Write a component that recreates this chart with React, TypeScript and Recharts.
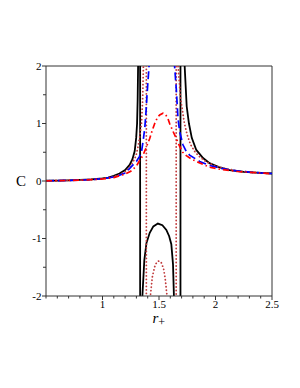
import React from 'react';
import { LineChart, Line, XAxis, YAxis, ReferenceLine, Label } from 'recharts';

// [r+, C] readings for each series
const blackPts: [number, number][] = [
  [0.5, 0.005], [0.6, 0.008], [0.7, 0.012], [0.8, 0.019], [0.9, 0.028], [0.95, 0.035], [1.0, 0.045],
  [1.05, 0.06], [1.1, 0.09], [1.15, 0.13], [1.2, 0.19], [1.24, 0.28], [1.265, 0.38], [1.285, 0.52],
  [1.298, 0.75], [1.306, 1.0], [1.311, 1.4], [1.315, 2.0], [1.322, 3.2], [1.328, 6], [1.333, 60],
  [1.333, -60], [1.338, -6], [1.346, -3], [1.353, -2.0], [1.37, -1.38], [1.389, -1.08], [1.418, -0.9],
  [1.45, -0.79], [1.49, -0.74], [1.53, -0.77], [1.565, -0.85], [1.59, -0.96], [1.609, -1.1],
  [1.624, -1.45], [1.632, -2.0], [1.65, -3.2], [1.675, -6], [1.69, -60], [1.69, 60], [1.7, 5],
  [1.715, 2.8], [1.727, 2.0], [1.745, 1.3], [1.765, 1.0], [1.79, 0.75], [1.83, 0.54], [1.89, 0.4],
  [1.947, 0.31], [2.03, 0.24], [2.124, 0.19], [2.25, 0.16], [2.36, 0.145], [2.5, 0.13],
];

const dottedPts: [number, number][] = [
  [0.5, 0.004], [0.6, 0.007], [0.7, 0.011], [0.8, 0.017], [0.9, 0.026], [1.0, 0.04], [1.1, 0.075],
  [1.15, 0.11], [1.2, 0.16], [1.226, 0.21], [1.26, 0.3], [1.286, 0.39], [1.3, 0.47], [1.315, 0.6],
  [1.33, 0.78], [1.345, 1.0], [1.355, 1.4], [1.362, 2.0], [1.37, 2.9], [1.38, 5.5], [1.388, 60],
  [1.388, -60], [1.395, -8], [1.41, -3], [1.424, -2.0], [1.44, -1.68], [1.46, -1.5], [1.48, -1.41],
  [1.5, -1.39], [1.52, -1.42], [1.54, -1.52], [1.555, -1.7], [1.571, -2.0], [1.6, -2.8], [1.63, -5],
  [1.652, -60], [1.652, 60], [1.66, 4], [1.669, 2.0], [1.69, 1.45], [1.725, 1.0], [1.75, 0.8],
  [1.78, 0.63], [1.82, 0.5], [1.86, 0.42], [1.92, 0.33], [2.0, 0.26], [2.1, 0.21], [2.2, 0.175],
  [2.3, 0.155], [2.4, 0.14], [2.5, 0.13],
];

const bluePts: [number, number][] = [
  [0.5, 0.004], [0.6, 0.007], [0.7, 0.01], [0.8, 0.016], [0.9, 0.025], [1.0, 0.04], [1.1, 0.07],
  [1.15, 0.1], [1.2, 0.14], [1.241, 0.22], [1.27, 0.28], [1.3, 0.34], [1.325, 0.42], [1.345, 0.51],
  [1.36, 0.7], [1.374, 0.92], [1.385, 1.2], [1.394, 1.5], [1.403, 1.75], [1.412, 2.0], [1.43, 2.7],
  [1.47, 3.6], [1.53, 4.0], [1.59, 3.6], [1.625, 2.6], [1.638, 2.0], [1.653, 1.6], [1.668, 1.09],
  [1.683, 0.86], [1.712, 0.63], [1.74, 0.52], [1.771, 0.45], [1.86, 0.34], [1.95, 0.27], [2.05, 0.22],
  [2.15, 0.185], [2.3, 0.155], [2.4, 0.14], [2.5, 0.13],
];

const dashDotPts: [number, number][] = [
  [0.5, 0.003], [0.6, 0.006], [0.7, 0.01], [0.8, 0.015], [0.9, 0.023], [1.0, 0.035], [1.1, 0.06],
  [1.2, 0.12], [1.25, 0.17], [1.3, 0.26], [1.33, 0.36], [1.359, 0.45], [1.39, 0.6], [1.418, 0.74],
  [1.44, 0.88], [1.462, 1.0], [1.485, 1.1], [1.506, 1.15], [1.535, 1.18], [1.56, 1.15], [1.58, 1.08],
  [1.594, 1.0], [1.62, 0.88], [1.653, 0.74], [1.683, 0.6], [1.71, 0.5], [1.742, 0.44], [1.78, 0.39],
  [1.83, 0.34], [1.947, 0.24], [2.05, 0.2], [2.2, 0.165], [2.35, 0.145], [2.5, 0.125],
];

const xTicks = [0.5, 0.6, 0.7, 0.8, 0.9, 1, 1.1, 1.2, 1.3, 1.4, 1.5, 1.6, 1.7, 1.8, 1.9, 2, 2.1, 2.2, 2.3, 2.4, 2.5];
const xMajor = [1, 1.5, 2, 2.5];
const yTicks = [-2, -1.5, -1, -0.5, 0, 0.5, 1, 1.5, 2];
const yMajor = [-2, -1, 0, 1, 2];

const toData = (pts: [number, number][]) => pts.map(([r, c]) => ({ r, c }));

const SERIF = "'Liberation Serif', 'DejaVu Serif', serif";
const AXIS = '#333';

const XTick = (props: any) => {
  const { x, y, payload } = props;
  const v = payload.value;
  const major = xMajor.some((m) => Math.abs(m - v) < 1e-6);
  return (
    <g>
      <line x1={x} x2={x} y1={y} y2={y + (major ? 4 : 2.5)} stroke={AXIS} strokeWidth={1} />
      {major && (
        <text x={x} y={y + 12} textAnchor="middle" fontSize={11} fontFamily={SERIF} fill="#000" style={{ fill: '#000' }}>
          {String(v)}
        </text>
      )}
    </g>
  );
};

const YTick = (props: any) => {
  const { x, y, payload } = props;
  const v = payload.value;
  const major = yMajor.some((m) => Math.abs(m - v) < 1e-6);
  return (
    <g>
      <line x1={x - (major ? 4 : 3)} x2={x} y1={y} y2={y} stroke={AXIS} strokeWidth={1} />
      {major && (
        <text x={x - 4.5} y={y + 3.8} textAnchor="end" fontSize={11} fontFamily={SERIF} fill="#000" style={{ fill: '#000' }}>
          {v < 0 ? '-' + Math.abs(v) : String(v)}
        </text>
      )}
    </g>
  );
};

export default function App() {
  return (
    <div style={{ position: 'absolute', left: 0, top: 0, background: '#fff' }}>
      <LineChart width={300} height={388} margin={{ top: 66, right: 28, bottom: 62, left: 6 }}>
        <XAxis
          type="number"
          dataKey="r"
          domain={[0.5, 2.5]}
          allowDataOverflow
          ticks={xTicks}
          interval={0}
          tickSize={0}
          tickMargin={0}
          tick={<XTick />}
          tickLine={false}
          axisLine={{ stroke: AXIS }}
          height={30}
        >
          <Label
            content={() => (
              <text x={152.5} y={323} fontFamily={SERIF} fill="#000">
                <tspan fontStyle="italic" fontSize={15}>r</tspan>
                <tspan fontSize={12} dy={3}>+</tspan>
              </text>
            )}
          />
        </XAxis>
        <YAxis
          type="number"
          domain={[-2, 2]}
          allowDataOverflow
          ticks={yTicks}
          interval={0}
          tickSize={0}
          tickMargin={0}
          tick={<YTick />}
          tickLine={false}
          axisLine={{ stroke: AXIS }}
          width={40}
        >
          <Label
            content={() => (
              <text x={21} y={186} textAnchor="middle" fontSize={15} fontFamily={SERIF} fill="#000">
                C
              </text>
            )}
          />
        </YAxis>
        <ReferenceLine y={2} stroke={AXIS} strokeWidth={1} />
        <ReferenceLine x={2.5} stroke={AXIS} strokeWidth={1} />
        <Line data={toData(blackPts)} dataKey="c" type="linear" dot={false} stroke="#000" strokeWidth={1.8} isAnimationActive={false} />
        <Line data={toData(dottedPts)} dataKey="c" type="linear" dot={false} stroke="#c0393b" strokeWidth={1.8} strokeDasharray="0.1 3.4" strokeLinecap="round" isAnimationActive={false} />
        <Line data={toData(bluePts)} dataKey="c" type="linear" dot={false} stroke="#0000ff" strokeWidth={1.7} strokeDasharray="8 4" isAnimationActive={false} />
        <Line data={toData(dashDotPts)} dataKey="c" type="linear" dot={false} stroke="#ff0000" strokeWidth={1.7} strokeDasharray="6 3 1.5 3" isAnimationActive={false} />
      </LineChart>
    </div>
  );
}
